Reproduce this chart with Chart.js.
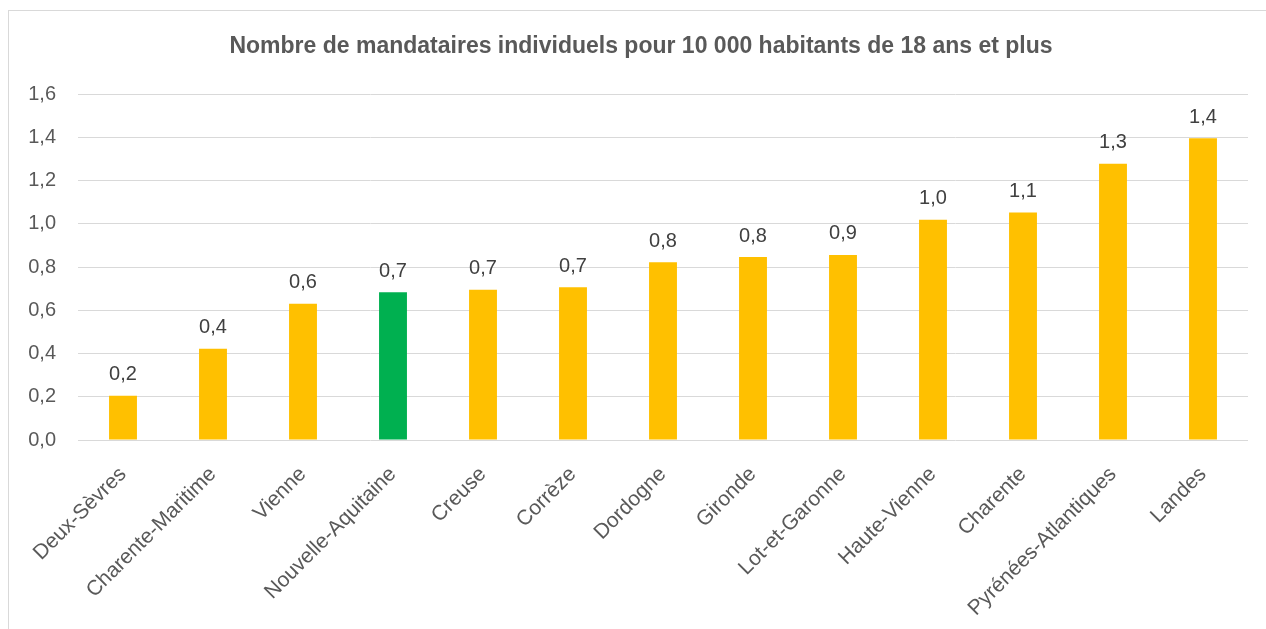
<!DOCTYPE html>
<html lang="fr">
<head>
<meta charset="utf-8">
<script src="https://cdn.jsdelivr.net/npm/chart.js@4.4.1/dist/chart.umd.min.js"></script>
<style>
    html, body { margin: 0; padding: 0; background: #fff; overflow: hidden; }
    #frame { position: absolute; left: 8px; top: 10px; width: 1300px; height: 700px; border: 1px solid #d9d9d9; }
    #wrap { position: absolute; left: 0; top: 0; width: 1266px; height: 629px; }
</style>
</head>
<body>
<div id="frame"></div>
<div id="wrap"><canvas id="chart"></canvas></div>
<script>
const departements = ['Deux-Sèvres', 'Charente-Maritime', 'Vienne', 'Nouvelle-Aquitaine', 'Creuse', 'Corrèze',
    'Dordogne', 'Gironde', 'Lot-et-Garonne', 'Haute-Vienne', 'Charente', 'Pyrénées-Atlantiques', 'Landes'];
const mandataires = [0.205, 0.422, 0.63, 0.683, 0.695, 0.706, 0.822, 0.846, 0.856, 1.018, 1.052, 1.278, 1.395];
const yTicks = [0, 0.2, 0.4, 0.6, 0.8, 1.0, 1.2, 1.4, 1.6];
const titre = 'Nombre de mandataires individuels pour 10 000 habitants de 18 ans et plus';

const TEXT = '#595959';
const FONT = "'Liberation Sans', Arial, sans-serif";

const fmt = v => v.toFixed(1).replace('.', ',');

// titre centré sur le cadre, pas sur la zone du graphique
const titlePlugin = {
    id: 'frameTitle',
    afterDraw(chart) {
        const ctx = chart.ctx;
        ctx.save();
        ctx.font = 'bold 23px ' + FONT;
        ctx.fillStyle = TEXT;
        ctx.textAlign = 'center';
        ctx.textBaseline = 'middle';
        ctx.fillText(titre, 641, 47);
        ctx.restore();
    }
};

// labels de valeur au-dessus des barres
const valueLabels = {
    id: 'valueLabels',
    afterDatasetsDraw(chart) {
        const ctx = chart.ctx;
        const meta = chart.getDatasetMeta(0);
        ctx.save();
        ctx.font = '20px ' + FONT;
        ctx.fillStyle = '#404040';
        ctx.textAlign = 'center';
        ctx.textBaseline = 'bottom';
        meta.data.forEach((bar, i) => {
            ctx.fillText(fmt(mandataires[i]), bar.x, bar.y - 11);
        });
        ctx.restore();
    }
};

new Chart(document.getElementById('chart').getContext('2d'), {
    type: 'bar',
    data: {
        labels: departements,
        datasets: [{
            data: mandataires,
            backgroundColor: departements.map(d => d === 'Nouvelle-Aquitaine' ? '#00b050' : '#ffc000'),
            borderWidth: 0,
            categoryPercentage: 0.62,
            barPercentage: 0.5
        }]
    },
    options: {
        responsive: true,
        maintainAspectRatio: false,
        animation: false,
        layout: { padding: { left: 10, top: 94, right: 18, bottom: 0 } },
        plugins: {
            legend: { display: false },
            tooltip: { enabled: false },
            title: { display: false }
        },
        scales: {
            x: {
                grid: { display: false },
                border: { display: false },
                ticks: {
                    color: TEXT,
                    font: { family: FONT, size: 21 },
                    minRotation: 45,
                    maxRotation: 45,
                    padding: 14
                },
                afterFit(scale) { scale.height = 189; }
            },
            y: {
                min: 0,
                max: 1.6,
                afterBuildTicks(scale) { scale.ticks = yTicks.map(v => ({ value: v })); },
                grid: { color: '#d9d9d9', drawTicks: false },
                border: { display: false },
                ticks: {
                    color: TEXT,
                    font: { family: FONT, size: 20 },
                    padding: 22,
                    callback: v => fmt(v)
                },
                afterFit(scale) { scale.width = 68; }
            }
        }
    },
    plugins: [valueLabels, titlePlugin]
});
</script>
</body>
</html>
